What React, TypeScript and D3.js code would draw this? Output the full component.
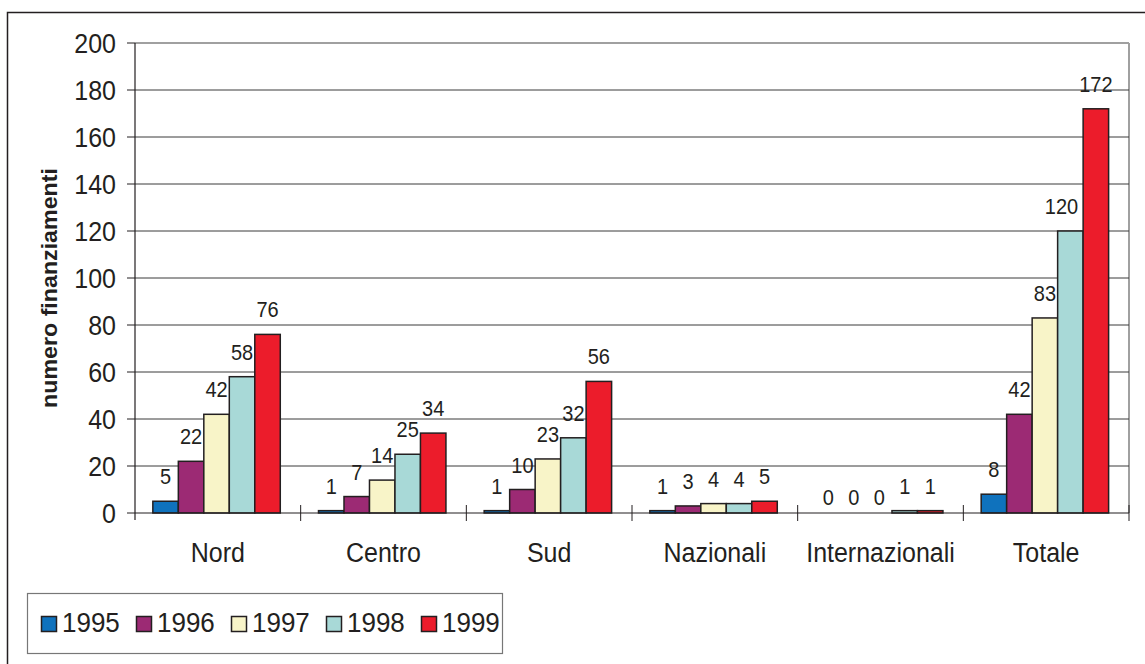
import React from "react";
import * as d3 from "d3";

const categories = ["Nord", "Centro", "Sud", "Nazionali", "Internazionali", "Totale"];
const years = ["1995", "1996", "1997", "1998", "1999"];
const v1995 = [5, 1, 1, 1, 0, 8];
const v1996 = [22, 7, 10, 3, 0, 42];
const v1997 = [42, 14, 23, 4, 0, 83];
const v1998 = [58, 25, 32, 4, 1, 120];
const v1999 = [76, 34, 56, 5, 1, 172];
const seriesValues = [v1995, v1996, v1997, v1998, v1999];
const colors = ["#0F72BD", "#9C2A74", "#F8F4C8", "#A8D9D7", "#EC1C2B"];
const yTicks = [0, 20, 40, 60, 80, 100, 120, 140, 160, 180, 200];

const FONT = "'Liberation Sans', Arial, sans-serif";
const SY = 1.08;

function T(props: { x: number; y: number; size: number; anchor?: string; weight?: string; children: React.ReactNode; dy?: string }) {
  return (
    <g transform={`translate(${props.x},${props.y}) scale(1,${SY})`}>
      <text x={0} y={0} dy={props.dy} textAnchor={props.anchor || "start"} fontFamily={FONT} fontSize={props.size} fontWeight={props.weight} fill="#231F20">{props.children}</text>
    </g>
  );
}

export default function App() {
  const left = 135, right = 1129, top = 43, bottom = 513;
  const y = d3.scaleLinear().domain([0, 200]).range([bottom, top]);
  const x = d3.scaleBand<string>().domain(categories).range([left, right]).padding(0);
  const bw = x.bandwidth();
  const inner = d3.scaleBand<string>().domain(years)
    .range([bw * 0.7 / 6.5, bw * 5.7 / 6.5]).padding(0);
  const labelSize = 20;

  return (
    <svg width={1145} height={664} style={{ position: "absolute", left: 0, top: 0, background: "#fff" }}>
      <rect x={7.5} y={12.5} width={1150} height={670} fill="#fff" stroke="#231F20" strokeWidth={1.5} />
      <line x1={left} x2={right} y1={top} y2={top} stroke="#A0A0A0" strokeWidth={2} />
      <line x1={right} x2={right} y1={top} y2={bottom} stroke="#A0A0A0" strokeWidth={2} />
      {yTicks.filter(t => t > 0 && t < 200).map(t => (
        <line key={t} x1={left} x2={right} y1={y(t)} y2={y(t)} stroke="#3A3A3A" strokeWidth={1} />
      ))}
      {yTicks.map(t => (
        <g key={"yt" + t}>
          <line x1={127} x2={left} y1={y(t)} y2={y(t)} stroke="#231F20" strokeWidth={1} />
          <T x={116} y={y(t) + 9.5} size={25} anchor="end">{t}</T>
        </g>
      ))}
      {categories.map((c, ci) => (
        <g key={c} transform={`translate(${x(c)},0)`}>
          {years.map((yr, si) => {
            const v = seriesValues[si][ci];
            const bx = inner(yr)!;
            const w = inner.bandwidth();
            const labelW = String(v).length * 0.556 * labelSize;
            let lx = bx + w / 2;
            // keep wide labels clear of a taller neighbouring bar on the right
            if (si < years.length - 1 && labelW > w && seriesValues[si + 1][ci] > v) {
              lx = Math.min(lx, bx + w - 5 - labelW / 2);
            }
            return (
              <g key={yr}>
                {v > 0 && (
                  <rect x={bx} y={y(v)} width={w} height={bottom - y(v)} fill={colors[si]} stroke="#231F20" strokeWidth={1.5} />
                )}
                <T x={lx} y={y(v) - (v === 0 ? 8 : 17)} size={labelSize} anchor="middle">{v}</T>
              </g>
            );
          })}
        </g>
      ))}
      <line x1={left} x2={left} y1={top} y2={520} stroke="#231F20" strokeWidth={1.2} />
      <line x1={left} x2={right} y1={bottom} y2={bottom} stroke="#231F20" strokeWidth={1.2} />
      {categories.map(c => (
        <line key={"ct" + c} x1={x(c)! + bw} x2={x(c)! + bw} y1={505} y2={521} stroke="#231F20" strokeWidth={1} />
      ))}
      {categories.map(c => (
        <T key={"cl" + c} x={x(c)! + bw / 2} y={562} size={25} anchor="middle">{c}</T>
      ))}
      <g transform={`translate(57,288) rotate(-90) scale(${SY},1)`}>
        <text x={0} y={0} textAnchor="middle" fontFamily={FONT} fontSize={21.5} fontWeight="bold" fill="#231F20">numero finanziamenti</text>
      </g>
      <rect x={27.5} y={593.5} width={475} height={60} fill="#fff" stroke="#777" strokeWidth={1.2} />
      {years.map((yr, i) => (
        <g key={"lg" + yr}>
          <rect x={41.5 + i * 95} y={616.5} width={15} height={15} fill={colors[i]} stroke="#231F20" strokeWidth={1.5} />
          <T x={62 + i * 95} y={632} size={26}>{yr}</T>
        </g>
      ))}
    </svg>
  );
}
